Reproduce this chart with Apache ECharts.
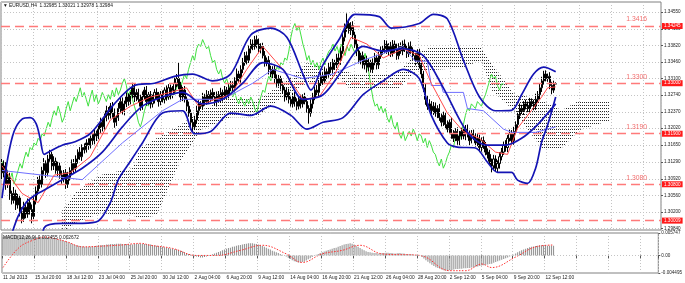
<!DOCTYPE html>
<html><head><meta charset="utf-8">
<script src="https://cdn.jsdelivr.net/npm/echarts@6/dist/echarts.min.js"></script>
<style>html,body{margin:0;padding:0;background:#fff;overflow:hidden}#c{width:685px;height:283px}</style>
</head><body><div id="c"></div>
<script>
// ---------------- data ----------------
const chartTitle = 'EURUSD,H4  1.32985 1.33021 1.32978 1.32984';
const macdTitle = 'MACD(12,26,9) 0.002455 0.002672';
const tickLabels = ['11 Jul 2013','15 Jul 20:00','18 Jul 12:00','23 Jul 04:00','25 Jul 20:00','30 Jul 12:00','2 Aug 04:00','6 Aug 20:00','9 Aug 12:00','14 Aug 04:00','16 Aug 20:00','21 Aug 12:00','26 Aug 04:00','28 Aug 20:00','2 Sep 12:00','5 Sep 04:00','9 Sep 20:00','12 Sep 12:00'];
const barsPerLabel = 16;
const totalSlots = 329;
const priceTicks = [1.34550,1.34180,1.33820,1.33460,1.33100,1.32740,1.32370,1.32020,1.31650,1.31290,1.30920,1.30560,1.30200,1.29840];
const priceMin = 1.298043, priceMax = 1.347681;
const macdTicks = [0.005747, 0, -0.004495];
const levelValues = [1.34245, 1.33000, 1.31900, 1.30800, 1.30009];
const levelTexts = ['1.3416', '1.3300', '1.3190', '1.3080', ''];

const firstOpen = 1.3125;
const closes = [
1.3105,1.3120,1.3080,1.3095,1.3060,1.3045,1.3060,1.3035,1.3050,1.3020,1.3005,1.3030,1.3015,1.3040,1.3025,1.3010,1.3045,
1.3065,1.3090,1.3080,1.3110,1.3125,1.3105,1.3135,1.3145,1.3120,1.3130,
1.3110,1.3120,1.3100,1.3090,1.3105,1.3080,1.3095,
1.3110,1.3125,1.3115,1.3135,1.3150,1.3140,1.3160,1.3155,1.3170,1.3165,1.3180,
1.3175,1.3190,1.3185,1.3200,1.3215,1.3205,1.3225,1.3240,1.3230,1.3250,1.3235,1.3215,1.3225,1.3245,1.3260,1.3240,1.3255,1.3270,1.3260,
1.3275,1.3290,1.3270,1.3280,1.3265,1.3250,1.3270,1.3285,1.3260,1.3275,1.3255,1.3265,1.3280,1.3270,
1.3260,1.3275,1.3265,1.3285,1.3270,1.3290,1.3275,1.3285,1.3300,1.3310,1.3295,1.3270,1.3285,1.3265,1.3250,
1.3235,1.3215,1.3205,1.3220,1.3240,1.3255,1.3250,
1.3270,1.3260,1.3275,1.3265,1.3280,1.3270,1.3260,1.3275,1.3265,1.3280,1.3270,1.3285,1.3275,1.3290,1.3295,
1.3290,1.3305,1.3320,1.3310,1.3330,1.3345,1.3360,1.3350,1.3375,1.3385,
1.3380,1.3395,1.3385,1.3375,1.3380,
1.3360,1.3345,1.3350,1.3330,1.3320,1.3330,1.3310,1.3300,1.3310,1.3295,1.3285,
1.3270,1.3280,1.3265,1.3255,1.3270,1.3260,1.3250,1.3265,1.3255,1.3270,1.3260,1.3245,
1.3235,
1.3255,1.3270,1.3285,1.3280,1.3300,1.3315,1.3305,1.3325,1.3320,1.3335,1.3330,1.3345,1.3340,1.3355,1.3350,
1.3370,1.3400,1.3420,1.3430,1.3415,1.3425,1.3405,
1.3385,1.3370,1.3350,1.3360,1.3340,
1.3350,1.3335,1.3345,1.3330,1.3345,1.3355,1.3340,1.3360,1.3370,
1.3375,1.3385,1.3370,1.3380,1.3365,1.3385,1.3375,1.3360,1.3380,1.3370,1.3385,1.3375,1.3365,1.3380,1.3370,
1.3360,1.3350,1.3365,1.3340,1.3320,1.3290,1.3265,1.3250,1.3255,
1.3240,1.3250,1.3235,1.3245,1.3225,1.3215,1.3230,1.3210,1.3200,1.3215,1.3190,1.3180,1.3195,1.3175,1.3185,
1.3195,1.3185,1.3200,1.3190,1.3175,1.3190,1.3185,
1.3170,1.3180,1.3160,1.3175,1.3165,1.3150,1.3145,
1.3130,1.3120,1.3135,1.3115,1.3125,1.3140,1.3150,
1.3165,1.3160,1.3180,1.3190,1.3175,1.3195,1.3210,
1.3230,1.3245,1.3240,1.3255,1.3250,1.3245,1.3260,1.3255,1.3250,1.3265,1.3275,
1.3290,1.3305,1.3320,1.3310,1.3315,1.3295,1.3285,1.32985,1.32984];
const upperWickPips = [
10,12,8,15,10,6,14,8,9,7,10,12,6,9,8,11,7,10,6,9,
8,12,7,9,10,6,11,8,9,7,10,6,8,12,7,9,10,8,6,11,
7,9,8,10,6,9,12,7,8,10,6,9,11,8,7,9,10,6,12,8,
9,7,10,8,6,11,9,7,8,10,12,7,9,6,8,10,7,9,11,8,
9,6,10,8,7,9,12,10,35,8,7,9,6,10,8,7,9,11,8,6,
9,7,10,8,6,9,11,7,8,10,6,9,7,8,10,9,8,12,7,9,
10,8,9,7,11,10,8,9,12,7,8,10,6,9,8,7,10,9,8,6,
9,7,10,8,6,9,11,7,8,10,6,9,8,7,10,9,8,11,7,9,
8,10,7,9,11,8,6,9,10,8,12,10,22,9,8,10,7,9,8,6,
9,7,10,8,6,9,11,7,8,10,6,9,8,7,10,9,8,11,7,9,
8,10,7,9,11,8,6,9,10,8,7,9,8,10,6,9,8,7,10,9,
8,7,9,6,10,8,7,9,11,8,6,9,10,7,8,9,6,10,8,7,
9,7,8,10,6,9,8,7,10,9,8,11,7,9,8,10,7,9,11,8,
6,9,10,8,7,9,12,8,10,9,7,8,6,9,8,7,3.6];
const lowerWickPips = [
15,10,12,8,14,9,7,11,8,10,10,7,9,8,11,15,6,9,8,10,
7,9,11,8,6,10,9,7,12,8,9,6,10,8,7,9,11,8,10,7,
9,8,6,10,7,9,8,11,7,9,10,6,8,9,7,10,12,8,7,9,
8,10,7,9,6,8,11,9,7,10,8,6,9,7,10,8,9,7,11,8,
7,9,8,6,10,8,7,9,8,10,9,7,11,8,12,9,7,8,10,6,
8,9,7,10,6,8,9,11,7,8,10,6,9,8,7,9,8,10,7,9,
8,7,9,6,10,8,7,9,8,10,6,9,8,11,7,9,10,8,7,9,
8,10,7,9,6,8,11,9,7,10,8,6,9,23,8,10,7,9,8,6,
9,7,10,8,6,9,11,7,8,10,6,9,8,7,10,9,8,11,7,9,
8,10,12,9,7,8,6,10,9,7,8,10,6,9,8,7,10,9,8,6,
9,7,10,8,6,9,11,7,8,10,9,12,8,10,7,9,8,11,7,9,
8,10,7,9,11,8,6,9,10,8,7,9,8,10,6,9,8,7,10,9,
8,7,9,6,14,8,7,9,11,8,6,9,10,7,8,9,6,10,8,7,
9,7,8,10,6,9,8,7,10,9,8,6,7,8,9,6,0.6];

// indicator lines: [bar index, price]
const bbUpper = [[0,1.3050],[3,1.3140],[6,1.3195],[10,1.3222],[14,1.3225],[17,1.3212],[19,1.3180],[21,1.3145],[24,1.3152],[30,1.3165],[36,1.3172],[44,1.3190],[56,1.3255],[66,1.3295],[76,1.3300],[86,1.3315],[95,1.3320],[105,1.3305],[114,1.3320],[124,1.3405],[134,1.3420],[142,1.3400],[150,1.3320],[154,1.3285],[160,1.3340],[168,1.3395],[176,1.3450],[188,1.3445],[194,1.3420],[208,1.3430],[215,1.3450],[222,1.3440],[230,1.3350],[238,1.3270],[246,1.3240],[254,1.3241],[259,1.3275],[265,1.3320],[270,1.3335],[276,1.3325]];
const bbMiddle = [[0,1.2900],[4,1.2960],[8,1.3010],[12,1.3040],[16,1.3055],[20,1.3065],[30,1.3090],[40,1.3115],[50,1.3150],[60,1.3205],[70,1.3250],[80,1.3270],[90,1.3280],[100,1.3255],[110,1.3265],[120,1.3300],[130,1.3345],[140,1.3330],[150,1.3265],[160,1.3275],[170,1.3330],[180,1.3380],[190,1.3370],[200,1.3375],[210,1.3360],[220,1.3290],[232,1.3193],[242,1.3165],[251,1.3165],[259,1.3180],[267,1.3210],[276,1.3255]];
const bbLower = [[0,1.2700],[17,1.2780],[19,1.2900],[21,1.2985],[30,1.2995],[40,1.2995],[48,1.3000],[54,1.3040],[58,1.3090],[64,1.3130],[70,1.3170],[80,1.3235],[90,1.3240],[96,1.3190],[104,1.3195],[114,1.3235],[124,1.3230],[134,1.3250],[144,1.3230],[152,1.3200],[160,1.3215],[170,1.3225],[180,1.3275],[190,1.3305],[200,1.3330],[208,1.3310],[214,1.3230],[222,1.3170],[227,1.3161],[236,1.3159],[242,1.3128],[247,1.3106],[254,1.3106],[257,1.3089],[262,1.3082],[266,1.3115],[269,1.3172],[272,1.3209],[276,1.3270]];
const tenkan = [[0,1.3120],[10,1.3060],[18,1.3040],[26,1.3100],[34,1.3105],[44,1.3140],[54,1.3220],[64,1.3250],[74,1.3270],[84,1.3280],[92,1.3290],[98,1.3250],[106,1.3265],[114,1.3275],[122,1.3330],[130,1.3380],[140,1.3330],[150,1.3265],[158,1.3270],[166,1.3320],[174,1.3400],[182,1.3385],[190,1.3355],[200,1.3375],[208,1.3360],[214,1.3300],[222,1.3235],[230,1.3195],[238,1.3180],[246,1.3150],[252,1.3145],[257,1.3202],[264,1.3241],[269,1.3270],[272,1.3290],[276,1.3292]];
const kijun = [[0,1.3110],[20,1.3100],[40,1.3090],[60,1.3170],[80,1.3240],[90,1.3265],[110,1.3265],[125,1.3300],[135,1.3330],[150,1.3310],[165,1.3320],[180,1.3350],[200,1.3380],[206,1.3348],[212,1.3348],[214,1.3295],[219,1.3295],[220,1.3280],[230,1.3280],[232,1.3245],[240,1.3240],[250,1.3200],[254,1.3193],[266,1.3193],[276,1.3205]];
const chikouShift = 26;
const cloudIdx    = [30,37,49,65,69,77,89,99,114,127,140,152,169,174,197,207,214,229,239,244,255,269,279,288,303];
const cloudTop    = [1.3023,1.3063,1.3100,1.3115,1.3159,1.3180,1.3209,1.3241,1.3270,1.3263,1.3300,1.3344,1.3329,1.3322,1.3322,1.3366,1.3379,1.3379,1.3377,1.3344,1.3278,1.3263,1.3241,1.3263,1.3263];
const cloudBottom = [1.2975,1.2997,1.3017,1.3012,1.3006,1.3012,1.3132,1.3198,1.3226,1.3226,1.3270,1.3300,1.3307,1.3285,1.3285,1.3329,1.3329,1.3333,1.3350,1.3285,1.3241,1.3159,1.3159,1.3198,1.3219];

// MACD main (histogram) in units of 0.0001, one per bar
const macdHistE4 = [
47,49,51,52,53,53,53,52,52,51,51,50,50,49,49,48,48,47,47,46,46,45,45,44,44,43,43,42,41,40,39,
37,35,33,31,29,27,26,25,24,23,22,22,22,23,23,24,
25,26,26,27,27,28,28,29,29,29,30,30,30,29,29,29,28,28,28,29,29,30,30,30,29,29,28,28,
27,26,25,24,23,22,21,20,19,18,17,16,15,13,12,10,8,6,4,2,0,
-2,-3,-4,-5,-5,-4,-3,-1,
1,3,5,7,9,11,13,15,17,19,20,22,23,25,26,27,28,29,30,31,31,31,30,
29,28,26,24,22,20,17,15,12,10,8,6,4,2,0,
-3,-6,-9,-12,-15,-17,-18,-18,-17,-16,-13,-10,-7,-4,-1,
2,4,6,8,10,12,14,15,17,19,20,22,24,26,28,29,30,31,30,
28,25,22,19,16,13,11,9,8,7,6,6,5,5,6,6,7,7,6,6,5,5,6,6,5,5,4,4,3,3,2,1,0,-1,
-4,-8,-12,-16,-20,-24,-27,-30,-32,-34,-36,-38,-39,-39,-38,
-37,-36,-35,-35,-34,-34,-33,-33,-32,-32,-31,-30,-29,-28,-27,-26,
-25,-24,-23,-22,-21,-19,-17,-15,-13,-11,-9,-7,-5,-3,-1,
2,5,8,11,13,15,17,19,21,22,23,24,25,26,26,26,26,25,25,25,24.55];
const macdSignalE4 = [[0,-31],[8,20],[15,39],[21,47],[26,43],[32,35],[40,22],[50,24],[60,27],[69,31],[74,26],[85,18],[97,0],[107,0],[119,13],[130,26],[142,4],[150,-18],[160,4],[170,13],[179,26],[190,4],[209,0],[224,-39],[232,-39],[240,-22],[245,-31],[257,-4],[267,22],[276,26.72]];

// ---------------- build ----------------
const FONT = 'Liberation Sans';
const categories = [];
for (let i = 0; i < totalSlots; i++) {
  const k = i / barsPerLabel;
  categories.push(Number.isInteger(k) && k < tickLabels.length ? tickLabels[k] : '');
}
const candleData = closes.map((c, i) => {
  const o = i === 0 ? firstOpen : closes[i - 1];
  const hi = Math.max(o, c) + upperWickPips[i] / 10000;
  const lo = Math.min(o, c) - lowerWickPips[i] / 10000;
  return [o, c, lo, hi];
});
const chikou = [];
closes.forEach((c, i) => { if (i - chikouShift >= 0) chikou.push([i - chikouShift, c]); });
const cloudBase = cloudIdx.map((x, k) => [x, cloudBottom[k]]);
const cloudBand = cloudIdx.map((x, k) => [x, cloudTop[k] - cloudBottom[k]]);
const macdBars = macdHistE4.map(v => v / 10000);
const macdSig = macdSignalE4.map(d => [d[0], d[1] / 10000]);

const pc = document.createElement('canvas');
pc.width = 2; pc.height = 3;
const pctx = pc.getContext('2d');
pctx.fillStyle = '#2a2a2a'; pctx.fillRect(0, 0, 1, 1);

const gridLineStyle = { color: '#c4c4c4', type: [1, 2], width: 1 };
const tickEvery = (idx) => idx % barsPerLabel === 0;

const chart = echarts.init(document.getElementById('c'), null, { renderer: 'canvas' });
const lineSeries = (name, data, color, width, z, smooth) => ({
  type: 'line', name, data, xAxisIndex: 0, yAxisIndex: 0, symbol: 'none', z,
  smooth: smooth, lineStyle: { color, width }, silent: true, animation: false
});

chart.setOption({
  animation: false,
  backgroundColor: '#fff',
  textStyle: { fontFamily: FONT },
  grid: [
    { left: 1, right: 24, top: 2, height: 228, show: true, borderColor: '#808080', borderWidth: 1, backgroundColor: '#fff' },
    { left: 1, right: 24, top: 233, height: 40, show: true, borderColor: '#808080', borderWidth: 1, backgroundColor: '#fff' }
  ],
  xAxis: [
    { type: 'category', gridIndex: 0, data: categories, boundaryGap: true,
      axisLine: { show: false }, axisTick: { show: false }, axisLabel: { show: false },
      splitLine: { show: true, interval: tickEvery, lineStyle: gridLineStyle } },
    { type: 'category', gridIndex: 1, data: categories, boundaryGap: true,
      axisLine: { show: false },
      axisTick: { show: true, interval: tickEvery, length: 3, lineStyle: { color: '#555' } },
      axisLabel: { show: true, interval: tickEvery, align: 'left', margin: 2, fontSize: 4.8, color: '#222', fontFamily: FONT },
      splitLine: { show: true, interval: tickEvery, lineStyle: gridLineStyle } }
  ],
  yAxis: [
    { type: 'value', gridIndex: 0, position: 'right', min: priceMin, max: priceMax, scale: true,
      axisLine: { show: false }, splitLine: { show: false },
      axisTick: { show: true, length: 2, customValues: priceTicks, lineStyle: { color: '#555' } },
      axisLabel: { show: true, customValues: priceTicks, margin: 3, fontSize: 4.6, color: '#222', fontFamily: FONT,
        formatter: v => v.toFixed(5) } },
    { type: 'value', gridIndex: 1, position: 'right', min: macdTicks[2], max: macdTicks[0],
      axisLine: { show: false }, splitLine: { show: false },
      axisTick: { show: true, length: 2, customValues: macdTicks, lineStyle: { color: '#555' } },
      axisLabel: { show: true, customValues: macdTicks, margin: 3, fontSize: 4.6, color: '#222', fontFamily: FONT,
        formatter: v => (v === 0 ? '0.00' : v.toFixed(6)) } }
  ],
  graphic: [
    { type: 'text', left: 3, top: 3, z: 100, style: { text: '\u25BC ' + chartTitle, font: '4.8px "Liberation Sans"', fill: '#111' } },
    { type: 'text', left: 3, top: 235, z: 100, style: { text: macdTitle, font: '4.8px "Liberation Sans"', fill: '#111' } }
  ],
  series: [
    { type: 'line', name: 'cloudBase', data: cloudBase, stack: 'cloud', symbol: 'none', silent: true, z: 1,
      lineStyle: { opacity: 0 },
      markLine: { symbol: 'none', silent: true, precision: 6, label: { show: false },
        lineStyle: gridLineStyle, data: priceTicks.map(v => ({ yAxis: v })) } },
    { type: 'line', name: 'cloudBand', data: cloudBand, stack: 'cloud', symbol: 'none', silent: true, z: 1,
      lineStyle: { opacity: 0 }, areaStyle: { color: { image: pc, repeat: 'repeat' }, opacity: 1 } },
    lineSeries('chikou', chikou, '#3fe03f', 1, 3, false),
    { type: 'candlestick', name: 'EURUSD', data: candleData, xAxisIndex: 0, yAxisIndex: 0, z: 4,
      barWidth: 1.6, silent: true,
      itemStyle: { color: '#ffffff', color0: '#000000', borderColor: '#000000', borderColor0: '#000000', borderWidth: 1 } },
    lineSeries('kijun', kijun, '#6f6fff', 1, 5, false),
    lineSeries('tenkan', tenkan, '#ff4a4a', 1, 5, false),
    lineSeries('bbUpper', bbUpper, '#1414b4', 1.7, 6, 0.3),
    lineSeries('bbMiddle', bbMiddle, '#1414b4', 1.7, 6, 0.3),
    Object.assign(lineSeries('bbLower', bbLower, '#1414b4', 1.7, 6, 0.3), {
      markLine: { symbol: 'none', silent: true, precision: 6,
        data: levelValues.map((v, k) => ({ yAxis: v,
          lineStyle: { color: '#ff7a7a', width: 1.3, type: [9, 5] },
          label: { show: levelTexts[k] !== '', formatter: levelTexts[k], position: 'insideEndTop', distance: [14, 3],
            color: '#f26e6e', fontSize: 6.8, fontFamily: FONT } })) } }),
    { type: 'line', name: 'levelTags', data: [], xAxisIndex: 0, yAxisIndex: 0, symbol: 'none', silent: true, z: 20,
      markLine: { symbol: 'none', silent: true, precision: 6,
        data: levelValues.map(v => ({ yAxis: v, lineStyle: { color: 'rgba(0,0,0,0)', width: 0 },
          label: { show: true, position: 'end', distance: 1, formatter: v.toFixed(5), color: '#fff',
            backgroundColor: '#ff1a1a', padding: [1, 2, 0, 2], fontSize: 4.6, fontFamily: FONT } })) } },
    { type: 'bar', name: 'MACD', data: macdBars, xAxisIndex: 1, yAxisIndex: 1, barWidth: 1, silent: true,
      itemStyle: { color: '#8c8c8c' }, z: 2,
      markLine: { symbol: 'none', silent: true, precision: 8, label: { show: false }, lineStyle: gridLineStyle, data: [{ yAxis: 0 }] } },
    { type: 'line', name: 'Signal', data: macdSig, xAxisIndex: 1, yAxisIndex: 1, symbol: 'none', smooth: 0.4, silent: true, z: 3,
      lineStyle: { color: '#ff3030', width: 1, type: [1.5, 1.5] } }
  ]
});
</script>
</body></html>
